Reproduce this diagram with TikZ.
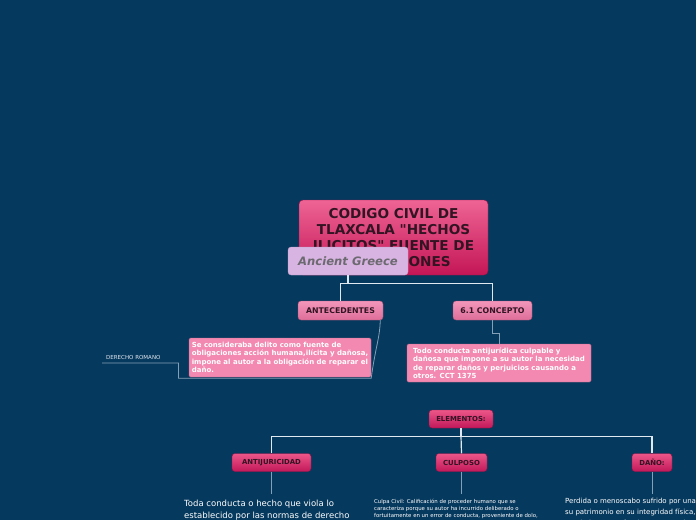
\documentclass[tikz,border=0pt]{standalone}
\usepackage{fontspec}
\setmainfont{DejaVu Sans}[Ligatures=TeXOff]
\usetikzlibrary{calc}

\definecolor{bgblue}{RGB}{6,57,94}
\definecolor{titletop}{RGB}{238,100,148}
\definecolor{titlebot}{RGB}{196,22,86}
\definecolor{lighttop}{RGB}{242,150,186}
\definecolor{lightbot}{RGB}{222,110,154}
\definecolor{darktop}{RGB}{236,86,136}
\definecolor{darkbot}{RGB}{194,24,90}
\definecolor{notepink}{RGB}{243,136,176}
\definecolor{greecefill}{RGB}{216,180,226}
\definecolor{greecetext}{RGB}{108,106,112}
\definecolor{keytext}{RGB}{50,20,34}
\definecolor{linkwhite}{RGB}{224,232,240}
\definecolor{linkgray}{RGB}{132,160,184}

\begin{document}
\begin{tikzpicture}[x=1pt,y=-1pt,
    title/.style={rounded corners=4pt, top color=titletop, bottom color=titlebot,
      draw=titlebot!80!black, line width=0.4pt, text=keytext, align=center,
      font=\bfseries\fontsize{13.6}{16}\selectfont, inner sep=0pt},
    greece/.style={rounded corners=3pt, fill=greecefill, draw=greecefill!85!black,
      line width=0.3pt, text=greecetext, font=\bfseries\itshape\fontsize{11.6}{13}\selectfont,
      minimum width=120pt, minimum height=28pt, inner sep=0pt},
    lightkey/.style={rounded corners=3pt, top color=lighttop, bottom color=lightbot,
      draw=lightbot!75!black, line width=0.4pt, text=keytext,
      font=\bfseries\fontsize{7.8}{9}\selectfont, minimum height=19pt, inner sep=0pt},
    darkkey/.style={rounded corners=3pt, top color=darktop, bottom color=darkbot,
      draw=darkbot!75!black, line width=0.4pt, text=keytext,
      font=\bfseries\fontsize{6.9}{8}\selectfont, minimum height=18pt, inner sep=0pt},
    note/.style={rounded corners=1.5pt, fill=notepink, draw=notepink!80!black,
      line width=0.4pt, text=white, align=left,
      font=\bfseries\fontsize{7}{8.5}\selectfont, inner sep=0pt},
    leaf/.style={anchor=north west, text=white, align=left, inner xsep=0pt},
    link/.style={draw=linkwhite, line width=1.2pt},
    thinlink/.style={draw=linkgray, line width=0.8pt}]
    % Draw the background
    \fill[bgblue] (0,0) rectangle (696,520);
    \useasboundingbox (0,0) rectangle (696,520);
    \clip (0,0) rectangle (696,520);
    % Main topic
    \node[title, minimum width=189pt, minimum height=75pt] (codigo) at (393.5,237.5)
      {CODIGO CIVIL DE\\TLAXCALA "HECHOS\\ILICITOS" FUENTE DE\\OBLIGACIONES};
    \node[greece] (greece) at (348,261) {Ancient Greece};
    % First level
    \node[lightkey, minimum width=85pt] (antec) at (340.5,310.5) {ANTECEDENTES};
    \node[lightkey, minimum width=79pt] (concepto) at (492.5,310.5) {6.1 CONCEPTO};
    \draw[link] (greece.south) -- ++(0,8) coordinate (split) -| (antec.north);
    \draw[link] (split) -| (concepto.north);
    % Notes
    \node[note, minimum width=182pt, minimum height=39pt] (hecho) at (280,357.5)
      {Se consideraba delito como fuente de\\obligaciones acción humana,ilícita y dañosa,\\impone al autor a la obligación de reparar el\\daño.};
    \node[note, minimum width=184pt, minimum height=38pt] (defin) at (499,363)
      {Todo conducta antijurídica culpable y\\dañosa que impone a su autor la necesidad\\de reparar daños y perjuicios causando a\\otros. CCT 1375};
    \node[anchor=south west, text=linkwhite, font=\fontsize{5.5}{6}\selectfont,
      text width=68pt, align=left, inner xsep=4pt, inner ysep=3pt] (romano) at (102,363)
      {DERECHO ROMANO};
    \draw[thinlink] ([xshift=-3pt]antec.south east) .. controls +(0,16) and +(4,-30) ..
      ([yshift=-1pt]hecho.south east) -| (romano.south east) -- (romano.south west);
    \draw[thinlink] (concepto.south) -- ++(0,13) -| (defin.north);
    % Elements
    \node[darkkey, minimum width=64pt] (elem) at (461,419) {ELEMENTOS:};
    \node[darkkey, minimum width=79pt] (anti) at (271.5,462.5) {ANTIJURICIDAD};
    \node[darkkey, minimum width=51pt] (culp) at (461.5,462.5) {CULPOSO};
    \node[darkkey, minimum width=40pt] (dano) at (652,462.5) {DAÑO:};
    \draw[link] (elem.south) -- ++(0,8) coordinate (fork) -| (anti.north);
    \draw[link] (fork) -- (culp.north);
    \draw[link] (fork) -| (dano.north);
    % Descriptions
    \node[leaf, font=\fontsize{8.5}{12}\selectfont, inner ysep=6pt] (antitext) at (184,494)
      {Toda conducta o hecho que viola lo\\establecido por las normas de derecho};
    \node[leaf, font=\fontsize{5.4}{7}\selectfont, inner ysep=5pt] (culptext) at (374,494)
      {Culpa Civil: Calificación de proceder humano que se\\caracteriza porque su autor ha incurrido deliberado o\\fortuitamente en un error de conducta, proveniente de dolo,};
    \node[leaf, font=\fontsize{7}{11}\selectfont, inner ysep=4pt] (danotext) at (565,494)
      {Perdida o menoscabo sufrido por una\\su patrimonio en su integridad física,\\sentimientos o afecciones por un hecho};
    \draw[thinlink] (anti.south) -- (anti.south |- antitext.north);
    \draw[thinlink] (culp.south) -- (culp.south |- culptext.north);
    \draw[thinlink] (dano.south) -- (dano.south |- danotext.north);
\end{tikzpicture}
\end{document}
